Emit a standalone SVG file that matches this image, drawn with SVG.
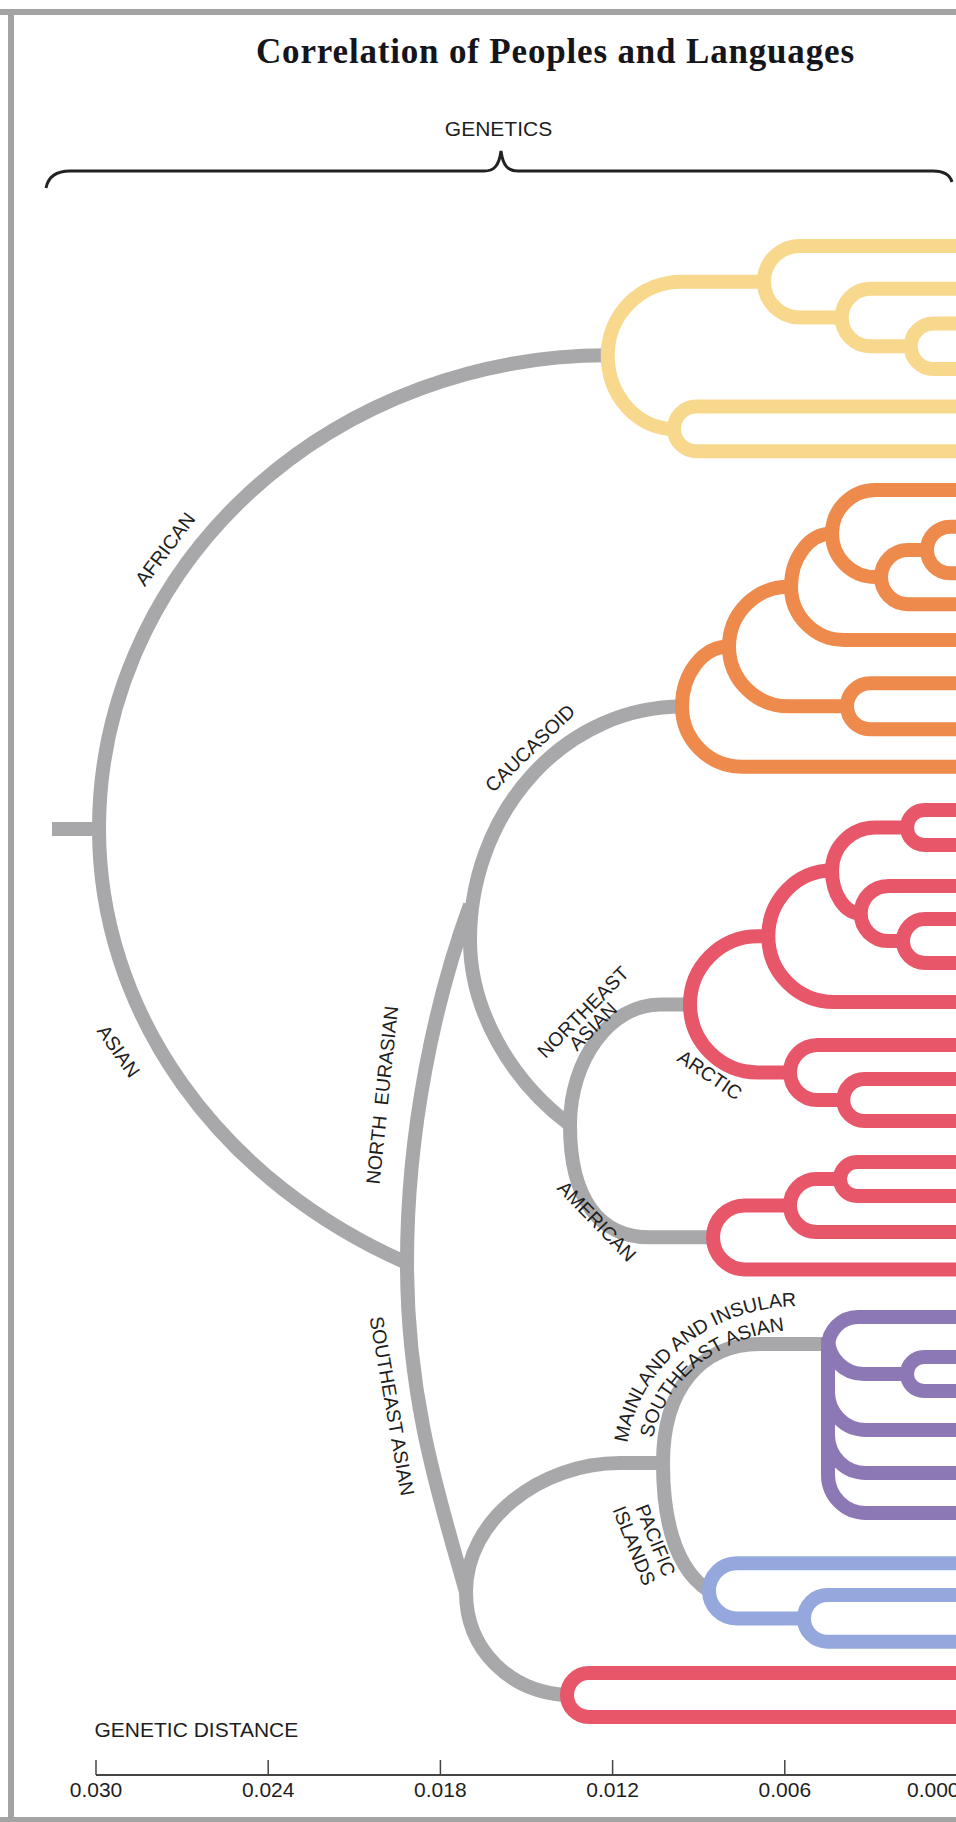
<svg xmlns="http://www.w3.org/2000/svg" xmlns:xlink="http://www.w3.org/1999/xlink" width="956" height="1822" viewBox="0 0 956 1822">
<style>
.br{fill:none;stroke:#a8a8aa;stroke-width:14}
.cl{fill:none;stroke-width:14}
.yel{stroke:#f7d88c}
.org{stroke:#ef8a4d}
.red{stroke:#e8566a}
.pur{stroke:#8d78b6}
.blu{stroke:#95a8dd}
.lbl{font-family:"Liberation Sans",Arial,Helvetica,sans-serif;font-size:19.5px;fill:#1e1e1e}
.ax{font-family:"Liberation Sans",Arial,Helvetica,sans-serif;font-size:21px;fill:#1e1e1e}
.tick{stroke:#444;stroke-width:1.5}
</style>
<defs>
<path id="tpOuter" d="M 626 1463 A 174 157 0 0 1 800 1306 H 880"/>
<path id="tpInner" d="M 650 1463 A 150 133 0 0 1 800 1330 H 880"/>
</defs>
<rect width="956" height="1822" fill="#ffffff"/>
<g id="frame" fill="#a3a3a3">
<rect x="0" y="9" width="956" height="6"/>
<rect x="8" y="9" width="6" height="1813"/>
<rect x="0" y="1817" width="956" height="5"/>
</g>
<g id="title">
<text x="256" y="63" font-family="'Liberation Serif','Times New Roman',serif" font-weight="bold" font-size="35" textLength="598" fill="#15151c">Correlation of Peoples and Languages</text>
</g>
<g id="genetics-brace">
<text class="ax" x="498.5" y="136" text-anchor="middle">GENETICS</text>
<path d="M 46 188 C 48 178 55 171 70 171 L 484 171 C 494 171 499 166 501 151 C 503 166 508 171 518 171 L 933 171 C 945 171 950 175 952 182" fill="none" stroke="#222" stroke-width="3"/>
</g>
<g id="connectors">
<path class="br" d="M 52 829 H 99"/>
<path class="br" d="M 99 829 A 508.7 473.7 0 0 1 607.7 355.3"/>
<path class="br" d="M 99 829 A 560 486 0 0 0 407 1263"/>
<path class="br" d="M 407 1263 C 407 1130 435 1000 470 905"/>
<path class="br" d="M 682 706.6 A 212 233.4 0 0 0 470 940 C 470 1010 510 1080 570 1125"/>
<path class="br" d="M 570 1125 C 570 1060 610 1004.4 660 1004.4 H 690"/>
<path class="br" d="M 570 1125 C 570 1200 600 1237.3 650 1237.3 H 713"/>
<path class="br" d="M 407 1263 C 407 1400 440 1500 466 1592"/>
<path class="br" d="M 663 1463 H 620 C 540 1463 466 1520 466 1592 C 466 1650 510 1692 567 1695"/>
<path class="br" d="M 828 1344 H 760 C 700 1344 663 1390 663 1463 C 663 1530 680 1572 709 1590.8"/>
</g>
<g id="clade-african" class="cl yel">
<path d="M 960 323.6 H 933.4 A 22.7 22.7 0 0 0 910.7 346.3 A 22.7 22.7 0 0 0 933.4 369 H 960"/>
<path d="M 960 288.8 H 870.4 A 28.7 28.7 0 0 0 841.7 317.5 A 28.8 28.8 0 0 0 870.5 346.3 H 910.7"/>
<path d="M 960 245.9 H 799.8 A 35.8 35.8 0 0 0 764 281.7 A 35.8 35.8 0 0 0 799.8 317.5 H 841.7"/>
<path d="M 960 406.6 H 696.3 A 22.3 22.3 0 0 0 674 428.9 A 22.3 22.3 0 0 0 696.3 451.2 H 960"/>
<path d="M 764 281.7 H 681.3 A 73.6 73.6 0 0 0 607.7 355.3 A 66.3 73.6 0 0 0 674 428.9"/>
</g>
<g id="clade-caucasoid" class="cl org">
<path d="M 960 526.7 H 950.3 A 23.3 23.3 0 0 0 927 550 A 23.3 23.3 0 0 0 950.3 573.3 H 960"/>
<path d="M 927 550 H 908.1 A 27.1 27.1 0 0 0 881 577.1 A 27.1 27.1 0 0 0 908.1 604.2 H 960"/>
<path d="M 960 490 H 875.6 A 43.6 43.6 0 0 0 832 533.6 A 43.6 43.6 0 0 0 875.6 577.1 H 881"/>
<path d="M 832 533.6 A 41 53.2 0 0 0 791 586.8 A 53.2 53.2 0 0 0 844.2 640 H 960"/>
<path d="M 960 683.3 H 870 A 23 23 0 0 0 847 706.3 A 23 23 0 0 0 870 729.2 H 960"/>
<path d="M 791 586.8 H 788.7 A 59.7 59.7 0 0 0 729 646.5 A 59.7 59.7 0 0 0 788.7 706.3 H 847"/>
<path d="M 729 646.5 A 47 60.1 0 0 0 682 706.6 A 60.1 60.1 0 0 0 742.1 766.7 H 960"/>
</g>
<g id="clade-arctic" class="cl red">
<path d="M 960 810 H 924.5 A 17.5 17.5 0 0 0 907 827.5 A 17.5 17.5 0 0 0 924.5 845 H 960"/>
<path d="M 960 919 H 925 A 22 22 0 0 0 903 941 A 22 22 0 0 0 925 963 H 960"/>
<path d="M 960 886 H 888.2 A 27.5 27.5 0 0 0 860.7 913.5 A 27.5 27.5 0 0 0 888.2 941 H 903"/>
<path d="M 907 827.5 H 875 A 43 43 0 0 0 832 870.5 A 28.7 43 0 0 0 860.7 913.5"/>
<path d="M 832 870.5 A 63.7 65.8 0 0 0 768.3 936.3 A 65.7 65.7 0 0 0 834 1002 H 960"/>
<path d="M 960 1079 H 864.3 A 21 21 0 0 0 843.3 1100 A 21 21 0 0 0 864.3 1121 H 960"/>
<path d="M 960 1045 H 817.5 A 27.5 27.5 0 0 0 790 1072.5 A 27.5 27.5 0 0 0 817.5 1100 H 843.3"/>
<path d="M 768.3 936.3 H 758.1 A 68.1 68.1 0 0 0 690 1004.4 A 68.1 68.1 0 0 0 758.1 1072.5 H 790"/>
</g>
<g id="clade-american" class="cl red">
<path d="M 960 1162 H 857 A 17 17 0 0 0 840 1179 A 17 17 0 0 0 857 1196 H 960"/>
<path d="M 840 1179 H 816.5 A 26.5 26.5 0 0 0 790 1205.5 A 26.5 26.5 0 0 0 816.5 1232 H 960"/>
<path d="M 790 1205.5 H 744.8 A 31.8 31.8 0 0 0 713 1237.3 A 32.2 32.2 0 0 0 745.2 1269.5 H 960"/>
</g>
<g id="clade-mainland-se-asian" class="cl pur">
<path d="M 960 1317 H 858 A 30 30 0 0 0 828 1347 V 1475 A 38 38 0 0 0 866 1513 H 960"/>
<path d="M 828 1338 A 36 36 0 0 0 864 1374 H 907"/>
<path d="M 960 1357 H 924 A 17 17 0 0 0 907 1374 A 17 17 0 0 0 924 1391 H 960"/>
<path d="M 828 1392 A 38 38 0 0 0 866 1430 H 960"/>
<path d="M 828 1435 A 38 38 0 0 0 866 1473 H 960"/>
</g>
<g id="clade-pacific" class="cl blu">
<path d="M 960 1595 H 827.4 A 23.4 23.4 0 0 0 804 1618.4 A 23.3 23.3 0 0 0 827.3 1641.7 H 960"/>
<path d="M 960 1563.3 H 736.5 A 27.5 27.5 0 0 0 709 1590.8 A 27.6 27.6 0 0 0 736.6 1618.4 H 804"/>
</g>
<g id="clade-southeast-red" class="cl red">
<path d="M 960 1673 H 589 A 22 22 0 0 0 567 1695 A 22 22 0 0 0 589 1717 H 960"/>
</g>
<g id="labels">
<text class="lbl" text-anchor="middle" transform="translate(170.4 553.1) rotate(-53)">AFRICAN</text>
<text class="lbl" text-anchor="middle" transform="translate(113 1055) rotate(55)">ASIAN</text>
<text class="lbl" text-anchor="middle" transform="translate(534.7 752.9) rotate(-44)">CAUCASOID</text>
<text class="lbl" text-anchor="middle" word-spacing="5" transform="translate(388.8 1095.7) rotate(-84)">NORTH EURASIAN</text>
<text class="lbl" text-anchor="middle" transform="translate(385.3 1407.2) rotate(80)">SOUTHEAST ASIAN</text>
<g transform="translate(587.8 1016.8) rotate(-45)">
<text class="lbl" text-anchor="middle">NORTHEAST</text>
<text class="lbl" text-anchor="middle" x="-3" y="17">ASIAN</text>
</g>
<text class="lbl" text-anchor="middle" transform="translate(706.2 1080.6) rotate(34)">ARCTIC</text>
<text class="lbl" text-anchor="middle" transform="translate(592.1 1225.8) rotate(46)">AMERICAN</text>
<text class="lbl"><textPath href="#tpOuter" xlink:href="#tpOuter" startOffset="20">MAINLAND AND INSULAR</textPath></text>
<text class="lbl"><textPath href="#tpInner" xlink:href="#tpInner" startOffset="25">SOUTHEAST ASIAN</textPath></text>
<g transform="translate(649.4 1542.7) rotate(68)">
<text class="lbl" text-anchor="middle">PACIFIC</text>
<text class="lbl" text-anchor="middle" x="-3" y="22">ISLANDS</text>
</g>
</g>
<g id="axis">
<text class="ax" x="94.5" y="1737">GENETIC DISTANCE</text>
<line x1="96" y1="1775" x2="960" y2="1775" stroke="#444" stroke-width="2"/>
<line class="tick" x1="96" y1="1760" x2="96" y2="1775"/>
<line class="tick" x1="268.2" y1="1760" x2="268.2" y2="1775"/>
<line class="tick" x1="440.4" y1="1760" x2="440.4" y2="1775"/>
<line class="tick" x1="612.6" y1="1760" x2="612.6" y2="1775"/>
<line class="tick" x1="784.8" y1="1760" x2="784.8" y2="1775"/>
<text class="ax" x="96" y="1797" text-anchor="middle">0.030</text>
<text class="ax" x="268.2" y="1797" text-anchor="middle">0.024</text>
<text class="ax" x="440.4" y="1797" text-anchor="middle">0.018</text>
<text class="ax" x="612.6" y="1797" text-anchor="middle">0.012</text>
<text class="ax" x="784.8" y="1797" text-anchor="middle">0.006</text>
<text class="ax" x="907" y="1797">0.000</text>
</g>
</svg>
